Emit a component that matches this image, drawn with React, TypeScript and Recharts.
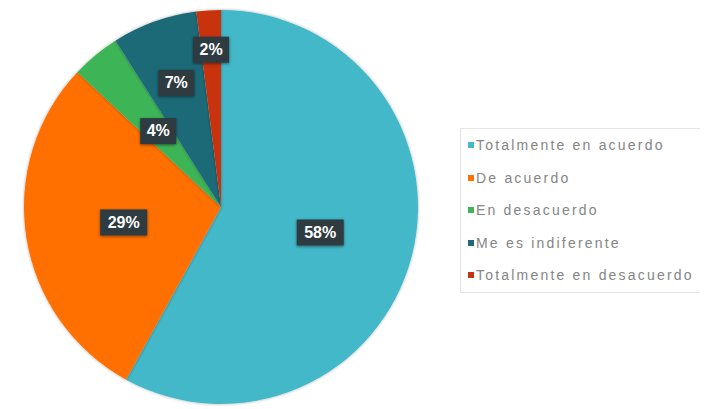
import { Legend, Pie, PieChart, Cell } from "recharts"

const categories = [
  "Totalmente en acuerdo",
  "De acuerdo",
  "En desacuerdo",
  "Me es indiferente",
  "Totalmente en desacuerdo",
]
const values = [58, 29, 4, 7, 2]
const colors = ["#42B8C9", "#FF7004", "#3DB556", "#1E6A78", "#C8330F"]

// how far out each label sits, as a share of the radius
const labelReach = [0.52, 0.5, 0.5, 0.67, 0.8]

const data = categories.map((name, i) => ({ name, value: values[i] }))
const total = values.reduce((s, v) => s + v, 0)

const RAD = Math.PI / 180

function renderLabel(props: any) {
  const { cx, cy, midAngle, outerRadius, index, value } = props
  const r = outerRadius * labelReach[index]
  const x = cx + r * Math.cos(-midAngle * RAD)
  const y = cy + r * Math.sin(-midAngle * RAD)
  const text = `${Math.round((value / total) * 100)}%`
  const w = text.length * 11 + 14
  const h = 26
  return (
    <g>
      <rect x={x - w / 2} y={y - h / 2} width={w} height={h} fill="#2D3B41" filter="url(#lblShadow)" />
      <text
        x={x}
        y={y + 1}
        fill="#ffffff"
        textAnchor="middle"
        dominantBaseline="middle"
        fontFamily="Liberation Sans, Arial, sans-serif"
        fontWeight="bold"
        fontSize={16}
      >
        {text}
      </text>
    </g>
  )
}

function LegendBox() {
  return (
    <div
      style={{
        border: "1px solid #e4e4e4",
        width: 254,
        boxSizing: "border-box",
        fontFamily: "Liberation Sans, Arial, sans-serif",
        fontSize: 14,
        color: "#858585",
        letterSpacing: 2.2,
        whiteSpace: "nowrap",
      }}
    >
      {categories.map((name, i) => (
        <div key={name} style={{ height: 32.5, display: "flex", alignItems: "center", paddingLeft: 7 }}>
          <span style={{ width: 6, height: 6, background: colors[i], display: "inline-block", marginRight: 2 }} />
          <span>{name}</span>
        </div>
      ))}
    </div>
  )
}

export default function App() {
  return (
    <div style={{ width: 700, height: 401 }}>
      <PieChart width={700} height={401} margin={{ top: 0, right: 0, bottom: 0, left: 0 }}>
        <defs>
          <filter id="lblShadow" x="-30%" y="-30%" width="160%" height="160%">
            <feDropShadow dx="0" dy="1" stdDeviation="1.5" floodColor="#000" floodOpacity="0.5" />
          </filter>
          <filter id="pieShadow" x="-10%" y="-10%" width="120%" height="120%">
            <feDropShadow dx="0" dy="0" stdDeviation="1.5" floodColor="#000" floodOpacity="0.35" />
          </filter>
        </defs>
        <Pie
          data={data}
          dataKey="value"
          nameKey="name"
          cx={213}
          cy={199}
          outerRadius={197}
          startAngle={90}
          endAngle={-270}
          stroke="none"
          label={renderLabel}
          labelLine={false}
          isAnimationActive={false}
          style={{ filter: "url(#pieShadow)" }}
        >
          {data.map((d, i) => (
            <Cell key={d.name} fill={colors[i]} />
          ))}
        </Pie>
        <Legend
          content={() => <LegendBox />}
          wrapperStyle={{ position: "absolute", left: 452, top: 120, width: 254 }}
        />
      </PieChart>
    </div>
  )
}
